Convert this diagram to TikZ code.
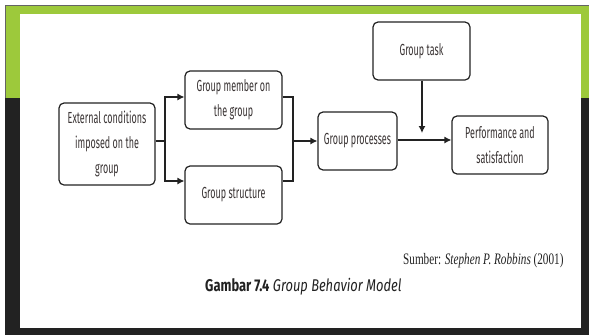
\documentclass[tikz,border=0pt]{standalone}
\usepackage{fontspec}
\setmainfont{Fira Sans}[FakeStretch=0.56]
\newfontfamily\capfont{Fira Sans}[FakeStretch=0.76]
\newfontfamily\srcfont{Liberation Serif}[FakeStretch=0.7]
\usetikzlibrary{arrows.meta}
\definecolor{slidegreen}{HTML}{9DC93B}
\definecolor{slidedark}{HTML}{222222}
\definecolor{txt}{HTML}{3A3434}
\tikzset{
  box/.style={draw=slidedark, line width=1.2pt, rounded corners=5pt, fill=white,
    text=txt, align=center, inner sep=0pt,
    font=\fontsize{16}{25}\selectfont},
  conn/.style={draw=slidedark, line width=1.2pt},
  arr/.style={conn, -{Latex[length=7pt,width=7pt]}}
}
\begin{document}
\begin{tikzpicture}[x=1pt,y=-1pt]
\useasboundingbox (0,0) rectangle (589,335);
\fill[white] (0,0) rectangle (589,335);
\fill[slidedark] (5,5) rectangle (589,335);
\fill[slidegreen] (5,5) rectangle (589,98);
\draw[slidedark!70, line width=0.8pt] (5.4,98) -- (5.4,5.4) -- (589,5.4);
\fill[white] (20,14) rectangle (581,328);

\node[box, minimum width=96pt, minimum height=82pt] (ext) at (107,144)
  {External conditions\\imposed on the\\group};
\node[box, minimum width=97pt, minimum height=58pt] (mem) at (233.5,100)
  {Group member on\\the group};
\node[box, minimum width=97pt, minimum height=58pt] (str) at (233.5,195)
  {Group structure};
\node[box, minimum width=79pt, minimum height=58pt] (proc) at (357.5,141)
  {Group processes};
\node[box, minimum width=96pt, minimum height=58pt] (perf) at (500,145)
  {Performance and\\satisfaction};
\node[box, minimum width=97pt, minimum height=58pt] (task) at (421.5,51)
  {Group task};

\coordinate (j1) at (165,141);
\coordinate (j2) at (293,141);
\coordinate (t) at (422,133);

\draw[conn] (ext.east |- j1) -- (j1);
\draw[arr] (j1) |- (mem.west |- 0,97);
\draw[arr] (j1) |- (str.west |- 0,181);
\draw[conn] (mem.east |- 0,97) -| (j2) |- (str.east |- 0,181);
\draw[arr] (j2) -- (proc.west |- j2);
\draw[arr] (proc.east |- 0,140) -- (perf.west |- 0,140);
\draw[arr] (task.south -| t) -- (t);

\node[anchor=base west, inner sep=0pt, text=slidedark, font=\srcfont\fontsize{16}{18}\selectfont] (src) at (403,264)
  {Sumber: \textit{Stephen P. Robbins} (2001)};
\node[anchor=base west, inner sep=0pt, text=slidedark, font=\capfont\fontsize{17}{18}\selectfont] (cap) at (205,291)
  {\textbf{Gambar 7.4} \textit{Group Behavior Model}};
\end{tikzpicture}
\end{document}
